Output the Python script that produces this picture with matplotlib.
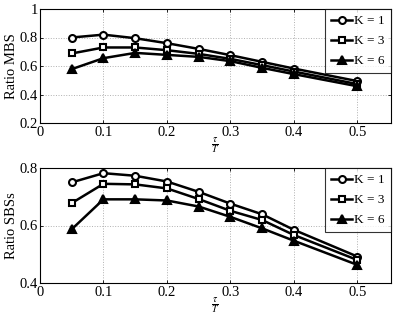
import numpy as np
import matplotlib.pyplot as plt

plt.rcParams['font.family'] = ['Liberation Serif', 'DejaVu Serif']
plt.rcParams['mathtext.fontset'] = 'stix'

tau = [0.05, 0.1, 0.15, 0.2, 0.25, 0.3, 0.35, 0.4, 0.5]

mbs_k1 = [0.80, 0.82, 0.795, 0.76, 0.72, 0.676, 0.629, 0.582, 0.494]
mbs_k3 = [0.688, 0.73, 0.73, 0.711, 0.685, 0.65, 0.606, 0.561, 0.473]
mbs_k6 = [0.578, 0.655, 0.692, 0.678, 0.664, 0.634, 0.587, 0.543, 0.458]

sbs_k1 = [0.750, 0.782, 0.773, 0.753, 0.717, 0.676, 0.639, 0.585, 0.492]
sbs_k3 = [0.678, 0.745, 0.743, 0.729, 0.692, 0.651, 0.619, 0.567, 0.480]
sbs_k6 = [0.587, 0.691, 0.691, 0.687, 0.666, 0.630, 0.590, 0.547, 0.463]

labels = ['K = 1', 'K = 3', 'K = 6']

fig = plt.figure(figsize=(3.95, 3.17), dpi=100)
ax1 = fig.add_axes([40 / 395, 1 - 123 / 317, 351 / 395, 114 / 317])
ax2 = fig.add_axes([40 / 395, 1 - 283 / 317, 351 / 395, 115 / 317])

styles = [dict(marker='o', mfc='white', ms=5),
          dict(marker='s', mfc='white', ms=4.5),
          dict(marker='^', mfc='black', ms=6)]

for ax, series, ylab, ylim, yt in [
        (ax1, [mbs_k1, mbs_k3, mbs_k6], 'Ratio MBS', (0.2, 1.0), [0.2, 0.4, 0.6, 0.8, 1.0]),
        (ax2, [sbs_k1, sbs_k3, sbs_k6], 'Ratio SBSs', (0.4, 0.8), [0.4, 0.6, 0.8])]:
    for s, st, lab in zip(series, styles, labels):
        ax.plot(tau, s, color='black', lw=1.8, mec='black', mew=1.5, label=lab, **st)
    ax.set_xlim(0, 0.553)
    ax.set_ylim(*ylim)
    ax.set_xticks([0, 0.1, 0.2, 0.3, 0.4, 0.5])
    ax.set_xticklabels(['0', '0.1', '0.2', '0.3', '0.4', '0.5'])
    ax.set_yticks(yt)
    ax.set_yticklabels(['%g' % v for v in yt])
    ax.grid(True, ls=':', color='#b0b0b0', lw=0.7)
    for sp in ax.spines.values():
        sp.set_linewidth(0.8)
    ax.tick_params(direction='in', labelsize=10.5, length=2.5, width=0.6,
                   top=True, right=True)
    ax.tick_params(axis='x', pad=2)
    ax.tick_params(axis='y', pad=1.5)
    ax.set_ylabel(ylab, fontsize=10.5, labelpad=1)
    ax.set_xlabel(r'$\frac{\tau}{T}$', fontsize=10, labelpad=-2)
    leg = ax.legend(loc='upper right', fontsize=9.5, frameon=True, fancybox=False,
                    edgecolor='black', borderaxespad=0, handlelength=1.6,
                    handletextpad=0.15, labelspacing=0.6, borderpad=0.45)
    leg.get_frame().set_linewidth(0.8)

fig.savefig('out.png', dpi=100)
